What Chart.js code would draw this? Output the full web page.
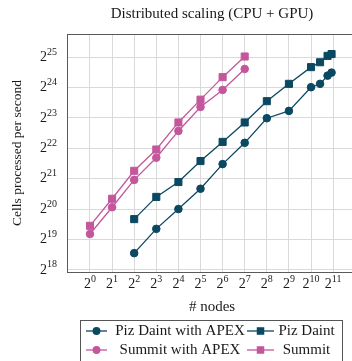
<!DOCTYPE html>
<html>
<head>
<meta charset="utf-8">
<script src="https://cdn.jsdelivr.net/npm/chart.js@4.4.1/dist/chart.umd.min.js"></script>
<style>
    html, body { margin: 0; padding: 0; background: #fff; overflow: hidden; }
    #wrap { width: 372px; height: 361px; }
</style>
</head>
<body>
<div id="wrap"><canvas id="scaling" width="372" height="361"></canvas></div>
<script>
// node counts and measured throughput (cells / s)
const pizNodes = [4, 8, 16, 32, 64, 128, 256, 512, 1024, 1360, 1720, 1950];
const pizCells = [834000, 1384000, 1943000, 3135000, 4853000, 7559000, 12281000, 18237000, 26693000, 29830000, 34494000, 35963000];
const pizApexCells = [384000, 668000, 1049000, 1668000, 2925000, 4752000, 8330000, 9840000, 16894000, 18237000, 21980000, 23557000];

const summitNodes = [1, 2, 4, 8, 16, 32, 64, 128];
const summitCells = [716000, 1327000, 2511000, 4079000, 7559000, 12715000, 21240000, 34020000];
const summitApexCells = [594000, 1093000, 2040000, 3383000, 6228000, 10766000, 15871000, 25605000];

// axis ticks as powers of two
const xTickExps = [0, 1, 2, 3, 4, 5, 6, 7, 8, 9, 10, 11];
const yTickExps = [18, 19, 20, 21, 22, 23, 24, 25];

const PIZ = '#0b4862';
const SUMMIT = '#c4579c';
const SERIF = '"Liberation Serif", "Times New Roman", serif';

const pts = (xs, ys) => xs.map((x, i) => ({ x, y: ys[i] }));

function series(label, xs, ys, color, style) {
    return {
        label, data: pts(xs, ys),
        borderColor: color, backgroundColor: color,
        borderWidth: 1.3, tension: 0,
        pointStyle: style, pointRadius: style === 'rect' ? 5 : 3.8,
        pointBorderWidth: 1,
    };
}

const datasets = [
    series('Piz Daint with APEX', pizNodes, pizApexCells, PIZ, 'circle'),
    series('Piz Daint', pizNodes, pizCells, PIZ, 'rect'),
    series('Summit with APEX', summitNodes, summitApexCells, SUMMIT, 'circle'),
    series('Summit', summitNodes, summitCells, SUMMIT, 'rect'),
];

function pow2Label(ctx, exp, x, y, align) {
    ctx.font = `14px ${SERIF}`;
    const wb = ctx.measureText('2').width;
    ctx.font = `10px ${SERIF}`;
    const ws = ctx.measureText(String(exp)).width;
    const left = align === 'right' ? x - wb - ws : x - (wb + ws) / 2;
    ctx.textAlign = 'left';
    ctx.textBaseline = 'middle';
    ctx.font = `14px ${SERIF}`;
    ctx.fillText('2', left, y);
    ctx.font = `10px ${SERIF}`;
    ctx.fillText(String(exp), left + wb, y - 5);
}

// frame, title, axis labels, tick labels and the boxed 2x2 legend
const decorations = {
    id: 'decorations',
    afterDraw(chart) {
        const { ctx, chartArea: a, scales } = chart;
        ctx.save();
        ctx.strokeStyle = '#5a5a5a';
        ctx.lineWidth = 1;
        ctx.strokeRect(a.left + 0.5, a.top + 0.5, a.right - a.left, a.bottom - a.top);

        ctx.fillStyle = '#1a1a1a';
        const cx = (a.left + a.right) / 2;
        ctx.textAlign = 'center';
        ctx.textBaseline = 'middle';
        ctx.font = `15px ${SERIF}`;
        ctx.fillText('Distributed scaling (CPU + GPU)', cx, 14);
        ctx.fillText('# nodes', cx, 307);

        ctx.save();
        ctx.translate(17, (a.top + a.bottom) / 2);
        ctx.rotate(-Math.PI / 2);
        ctx.font = `13.5px ${SERIF}`;
        ctx.fillText('Cells processed per second', 0, 0);
        ctx.restore();

        xTickExps.forEach((e) => pow2Label(ctx, e, scales.x.getPixelForValue(2 ** e), 284, 'center'));
        yTickExps.forEach((e) => pow2Label(ctx, e, 57, scales.y.getPixelForValue(2 ** e), 'right'));

        // legend
        ctx.strokeStyle = '#555';
        ctx.lineWidth = 1;
        ctx.strokeRect(80.5, 320.5, 262, 45);
        const rows = [331, 350];
        const cols = [{ s: 86, e: 107, tc: 180 }, { s: 247, e: 274, tc: 306.5 }];
        chart.data.datasets.forEach((ds, i) => {
            const c = cols[i % 2];
            const y = rows[Math.floor(i / 2)];
            ctx.strokeStyle = ds.borderColor;
            ctx.lineWidth = ds.borderWidth;
            ctx.beginPath();
            ctx.moveTo(c.s, y);
            ctx.lineTo(c.e, y);
            ctx.stroke();
            ctx.fillStyle = ds.backgroundColor;
            Chart.helpers.drawPoint(ctx, { pointStyle: ds.pointStyle, radius: ds.pointStyle === 'rect' ? 4.4 : 3.3, borderWidth: 1 }, (c.s + c.e) / 2, y);
            ctx.fillStyle = '#1a1a1a';
            ctx.textAlign = 'center';
            ctx.font = `15px ${SERIF}`;
            ctx.fillText(ds.label, c.tc, y);
        });
        ctx.restore();
    },
};

const gridOpts = { color: '#d9d9d9', lineWidth: 1, drawTicks: false };

new Chart(document.getElementById('scaling'), {
    type: 'line',
    data: { datasets },
    plugins: [decorations],
    options: {
        responsive: false,
        animation: false,
        layout: { padding: { left: 67, top: 34, right: 15, bottom: 89 } },
        plugins: { legend: { display: false }, tooltip: { enabled: false } },
        scales: {
            x: {
                type: 'logarithmic',
                min: 2 ** -1.04, max: 2 ** 12.08,
                afterBuildTicks: (s) => { s.ticks = xTickExps.map((e) => ({ value: 2 ** e })); },
                ticks: { display: false },
                grid: gridOpts,
                border: { color: '#5a5a5a' },
            },
            y: {
                type: 'logarithmic',
                min: 2 ** 17.93, max: 2 ** 25.76,
                afterBuildTicks: (s) => { s.ticks = yTickExps.map((e) => ({ value: 2 ** e })); },
                ticks: { display: false },
                grid: gridOpts,
                border: { color: '#5a5a5a' },
            },
        },
    },
});
</script>
</body>
</html>
